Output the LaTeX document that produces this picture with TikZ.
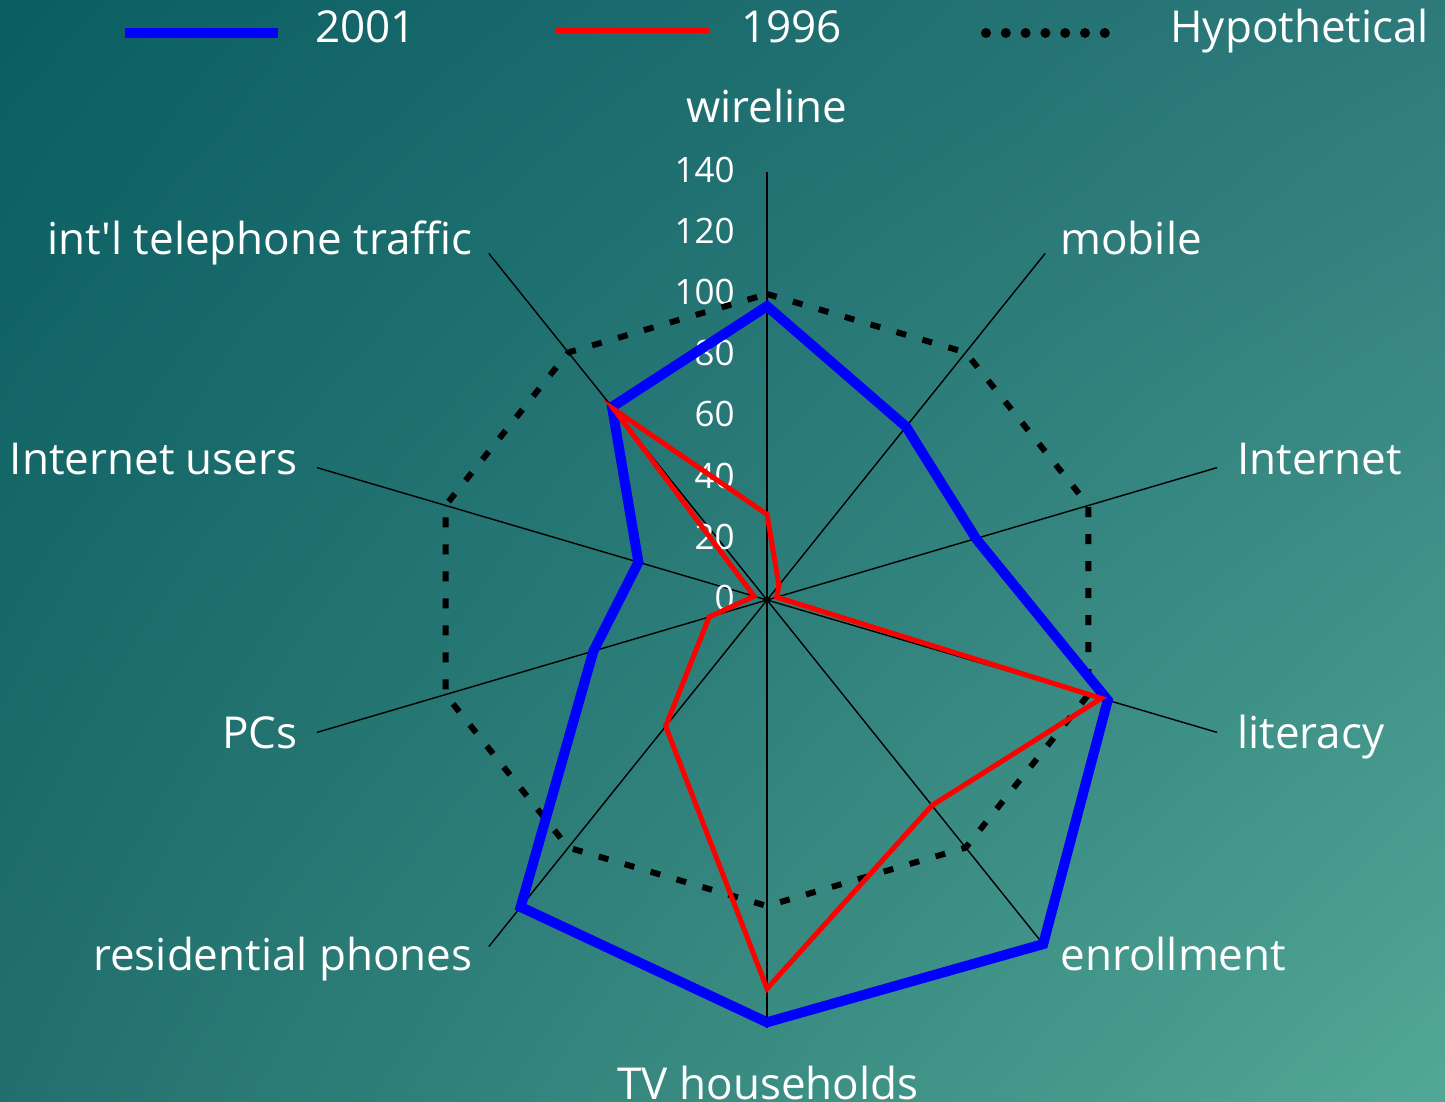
\documentclass[tikz,border=0pt]{standalone}
\usepackage{fontspec}
\setmainfont{Open Sans}[Ligatures=TeXOff]
\usetikzlibrary{shadings}
\definecolor{bgul}{HTML}{0A5E62}
\definecolor{bgur}{HTML}{2E7A7B}
\definecolor{bgll}{HTML}{22706E}
\definecolor{bglr}{HTML}{52A896}

\begin{document}
\begin{tikzpicture}[x=0.5pt, y=-0.5pt,
    lbl/.style={text=white, inner sep=0pt, font=\fontsize{22}{26}\selectfont},
    tick/.style={text=white, inner sep=0pt, anchor=east, font=\fontsize{17.5}{20}\selectfont},
    axisline/.style={black, line width=0.7pt},
    s2001/.style={blue, line width=5pt},
    s1996/.style={red, line width=2.5pt},
    hypo/.style={black, line width=3pt, dash pattern=on 5pt off 8.5pt},
    legdots/.style={black, line width=5pt, line cap=round, dash pattern=on 0pt off 9.9pt}]

    \useasboundingbox (0,0) rectangle (1445,1102);
    \clip (0,0) rectangle (1445,1102);
    \shade[upper left=bgul, upper right=bgur, lower left=bgll, lower right=bglr] (0,0) rectangle (1445,1102);

    % legend
    \coordinate (leg1a) at (125,33);
    \coordinate (leg1b) at (278,33);
    \coordinate (leg2a) at (556,30.5);
    \coordinate (leg2b) at (709,30.5);
    \coordinate (leg3a) at (986,33);
    \coordinate (leg3b) at (1106,33);
    \draw[s2001] (leg1a) -- (leg1b);
    \draw[s1996] (leg2a) -- (leg2b);
    \draw[legdots] (leg3a) -- (leg3b);
    \node[lbl, anchor=base west] (k2001) at (315,43) {2001};
    \node[lbl, anchor=base west] (k1996) at (741,43) {1996};
    \node[lbl, anchor=base west] (khyp) at (1170,43) {Hypothetical};

    \begin{scope}[shift={(383.5pt,-300pt)}, x=1.69pt, y=1.53pt]
        \coordinate (ctr) at (0,0);
        \foreach \ang/\nm in {90/wire, 54/mob, 18/inet, -18/lit, -54/enr, -90/tv, -126/res, -162/pc, 162/iu, 126/itl} {
            \coordinate (\nm) at (\ang:140);
            \draw[axisline] (ctr) -- (\nm);
        }
        \fill (ctr) circle (1.5pt);

        \foreach \t in {0,20,...,140}
            \node[tick] (tk\t) at ([xshift=-16pt,yshift=1pt]0,\t) {\t};

        \foreach \v [count=\i from 0] in {100,100,100,100,100,100,100,100,100,100}
            \coordinate (h\i) at ({90-36*\i}:\v);
        \foreach \v [count=\i from 0] in {96,70,65,106,139,138,124,54,40,78}
            \coordinate (b\i) at ({90-36*\i}:\v);
        \foreach \v [count=\i from 0] in {28,6,3,104,83,127,51,18,4,77}
            \coordinate (r\i) at ({90-36*\i}:\v);

        \draw[hypo] (h0) -- (h1) -- (h2) -- (h3) -- (h4) -- (h5) -- (h6) -- (h7) -- (h8) -- (h9) -- cycle;
        \draw[s2001] (b0) -- (b1) -- (b2) -- (b3) -- (b4) -- (b5) -- (b6) -- (b7) -- (b8) -- (b9) -- cycle;
        \draw[s1996] (r0) -- (r1) -- (r2) -- (r3) -- (r4) -- (r5) -- (r6) -- (r7) -- (r8) -- (r9) -- cycle;
    \end{scope}

    % axis labels
    \node[lbl, anchor=base] (lwire) at (767,123) {wireline};
    \node[lbl, anchor=base west] (lmob) at (1060,254) {mobile};
    \node[lbl, anchor=base west] (linet) at (1237,474) {Internet};
    \node[lbl, anchor=base west] (llit) at (1237,748) {literacy};
    \node[lbl, anchor=base west] (lenr) at (1060,970) {enrollment};
    \node[lbl, anchor=base] (ltv) at (768,1099) {TV households};
    \node[lbl, anchor=base east] (lres) at (473,970) {residential phones};
    \node[lbl, anchor=base east] (lpc) at (298,748) {PCs};
    \node[lbl, anchor=base east] (liu) at (298,474) {Internet users};
    \node[lbl, anchor=base east] (litl) at (473,254) {int'l telephone traffic};
\end{tikzpicture}
\end{document}
